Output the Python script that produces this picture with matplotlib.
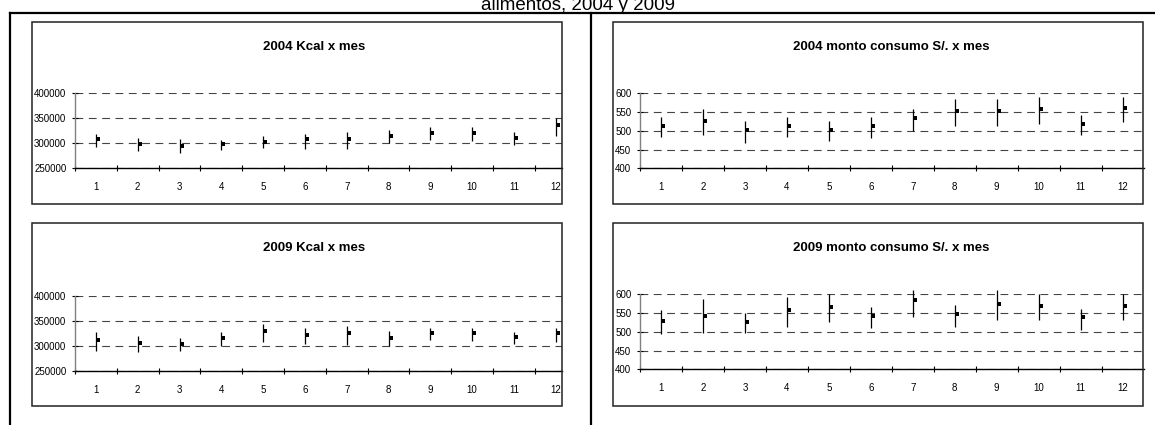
import matplotlib
matplotlib.use('Agg')
import matplotlib.pyplot as plt
from matplotlib.patches import Rectangle
from matplotlib.lines import Line2D
from matplotlib.path import Path

plt.rcParams['font.family'] = ['Liberation Sans', 'DejaVu Sans']

# datos (max, min, promedio por mes)
meses = [1, 2, 3, 4, 5, 6, 7, 8, 9, 10, 11, 12]

kcal04_max = [319400, 311400, 308000, 306700, 314000, 319400, 323400, 326700, 333400, 332700, 323400, 351500]
kcal04_min = [293300, 284000, 280600, 286600, 290000, 289300, 289300, 300000, 306000, 304700, 296000, 315400]
kcal04_prom = [308000, 298700, 295300, 298700, 302000, 308700, 308700, 315400, 321400, 321400, 311400, 336800]

kcal09_max = [327900, 319300, 315300, 326600, 342600, 335900, 339200, 329200, 335900, 335900, 328000, 335900]
kcal09_min = [289400, 286700, 289400, 300000, 308000, 302700, 302000, 300000, 312000, 309400, 302700, 308000]
kcal09_prom = [311300, 305300, 304000, 315300, 328600, 322000, 325200, 315300, 325200, 325200, 318000, 325200]

soles04_max = [536, 559, 525, 536, 525, 536, 559, 585, 585, 589, 542, 589]
soles04_min = [484, 490, 468, 484, 472, 480, 500, 514, 514, 519, 488, 523]
soles04_prom = [513, 526, 501, 514, 501, 514, 535, 552, 552, 557, 518, 560]

soles09_max = [558, 588, 550, 592, 600, 567, 611, 571, 611, 602, 562, 602]
soles09_min = [493, 498, 498, 514, 526, 510, 540, 514, 531, 531, 505, 531]
soles09_prom = [530, 543, 526, 557, 565, 543, 586, 548, 573, 569, 539, 569]

W, H = 1155, 425
fig = plt.figure(figsize=(W / 100, H / 100), dpi=100)


def caja(x0, y0, x1, y1):
    return [x0 / W, 1 - y1 / H, (x1 - x0) / W, (y1 - y0) / H]


def linea(xs, ys, lw):
    fig.lines.append(Line2D([x / W for x in xs], [1 - y / H for y in ys],
                            transform=fig.transFigure, color='black', lw=lw))


# marcador de cierre: cuadradito a la derecha de la linea
cuadro = Path([(0, -0.5), (1, -0.5), (1, 0.5), (0, 0.5), (0, -0.5)],
              [Path.MOVETO, Path.LINETO, Path.LINETO, Path.LINETO, Path.CLOSEPOLY])


def panel(marco, area, xmax, titulo, tx, ty, alto, bajo, prom, ylim, yticks):
    x0, y0, x1, y1 = marco
    fig.patches.append(Rectangle((x0 / W, 1 - y1 / H), (x1 - x0) / W, (y1 - y0) / H,
                                 transform=fig.transFigure, fill=False,
                                 edgecolor='#222222', lw=1.1, zorder=3))
    fig.text(tx / W, 1 - ty / H, titulo, ha='center', va='baseline',
             fontsize=9.5, fontweight='bold')

    ax = fig.add_axes(caja(*area))
    ax.set_xlim(0.5, xmax)
    ax.set_ylim(*ylim)
    ax.vlines(meses, bajo, alto, color='black', lw=0.9, clip_on=False, zorder=3)
    ax.plot(meses, prom, ls='none', marker=cuadro, ms=5.5, mew=0,
            color='black', clip_on=False, zorder=4)

    ax.set_yticks(yticks)
    ax.set_yticklabels([str(v) for v in yticks])
    ax.set_xticks([m - 0.5 for m in meses])
    ax.set_xticklabels([])
    ax.set_xticks(meses, minor=True)
    ax.set_xticklabels([str(m) for m in meses], minor=True)

    ax.tick_params(axis='x', which='major', direction='inout', length=5, width=0.8)
    ax.tick_params(axis='x', which='minor', length=0, pad=10, labelsize=7)
    ax.tick_params(axis='y', direction='inout', length=4.5, width=0.8, pad=4, labelsize=7)

    ax.grid(axis='y', color='#444444', lw=0.8, linestyle=(0, (7, 5)))
    ax.set_axisbelow(True)
    ax.spines['top'].set_visible(False)
    ax.spines['right'].set_visible(False)
    ax.spines['left'].set_color('#808080')
    ax.spines['left'].set_linewidth(1)
    ax.spines['bottom'].set_linewidth(1)
    ax.patch.set_alpha(0)


panel((32, 22, 562, 204), (75, 93.3, 562, 168.3), 12.15, '2004 Kcal x mes', 314, 50,
      kcal04_max, kcal04_min, kcal04_prom, (250000, 400000), [250000, 300000, 350000, 400000])
panel((32, 223, 562, 406), (75, 295.7, 562, 370.7), 12.15, '2009 Kcal x mes', 314, 251,
      kcal09_max, kcal09_min, kcal09_prom, (250000, 400000), [250000, 300000, 350000, 400000])
panel((613, 22, 1143, 204), (640, 93.3, 1143.6, 168.3), 12.5, '2004 monto consumo S/. x mes', 891, 50,
      soles04_max, soles04_min, soles04_prom, (400, 600), [400, 450, 500, 550, 600])
panel((613, 223, 1143, 406), (640, 294.3, 1143.6, 369.3), 12.5, '2009 monto consumo S/. x mes', 891, 251,
      soles09_max, soles09_min, soles09_prom, (400, 600), [400, 450, 500, 550, 600])

# marco exterior y division central
linea([10, 1155], [12.7, 12.7], 1.6)
linea([10, 10], [12.7, 425], 1.6)
linea([590.7, 590.7], [12.7, 425], 1.6)

# el titulo general queda cortado arriba, como en la imagen original
fig.text(578 / W, 1 - 9.5 / H, 'alimentos, 2004 y 2009', ha='center', va='baseline', fontsize=13.5)

plt.savefig('out.png', dpi=100)
